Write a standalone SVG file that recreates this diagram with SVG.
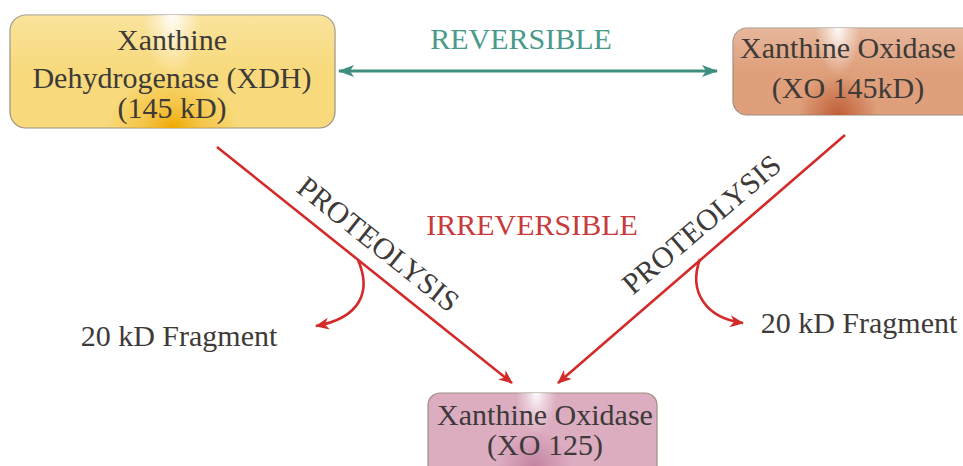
<svg xmlns="http://www.w3.org/2000/svg" width="963" height="466" viewBox="0 0 963 466">
<style>
.t{font-family:"Liberation Serif","Times New Roman",serif;font-size:30px;fill:#3d3a38;text-anchor:middle}
.red{stroke:#d32a2a;stroke-width:2.6;fill:none}
.teal{stroke:#3f8f80;stroke-width:3;fill:none}
.box{stroke:#9c8f80;stroke-width:1.2}
</style>
<defs>
<marker id="ar" viewBox="0 0 14 12" refX="13" refY="6" markerWidth="14" markerHeight="12" markerUnits="userSpaceOnUse" orient="auto">
<path d="M0,0 L14,6 L0,12 L4,6 Z" fill="#d32a2a"/>
</marker>
<marker id="at" viewBox="0 0 16 12" refX="15" refY="6" markerWidth="16" markerHeight="12" markerUnits="userSpaceOnUse" orient="auto-start-reverse">
<path d="M0,0 L16,6 L0,12 L4,6 Z" fill="#3f8f80"/>
</marker>
<radialGradient id="hi" cx="0.5" cy="0" r="0.5" gradientTransform="translate(0.41 0) scale(0.18 1.1)">
<stop offset="0" stop-color="#ffffff" stop-opacity="0.95"/>
<stop offset="0.5" stop-color="#ffffff" stop-opacity="0.4"/>
<stop offset="1" stop-color="#ffffff" stop-opacity="0"/>
</radialGradient>
<linearGradient id="top" x1="0" y1="0" x2="0" y2="1">
<stop offset="0" stop-color="#ffffff" stop-opacity="0.25"/>
<stop offset="0.5" stop-color="#ffffff" stop-opacity="0"/>
</linearGradient>
<radialGradient id="rY" cx="0.5" cy="1" r="0.5" gradientTransform="translate(0.3 0.05) scale(0.4 0.95)">
<stop offset="0" stop-color="#f0a800" stop-opacity="1"/>
<stop offset="0.5" stop-color="#f2b520" stop-opacity="0.5"/>
<stop offset="1" stop-color="#f0b000" stop-opacity="0"/>
</radialGradient>
<radialGradient id="rO" cx="0.5" cy="1" r="0.5" gradientTransform="translate(0.34 0.05) scale(0.32 0.95)">
<stop offset="0" stop-color="#b9532a" stop-opacity="0.85"/>
<stop offset="1" stop-color="#b9532a" stop-opacity="0"/>
</radialGradient>
<radialGradient id="rP" cx="0.5" cy="1" r="0.5" gradientTransform="translate(0.34 0.05) scale(0.32 0.95)">
<stop offset="0" stop-color="#b36a8c" stop-opacity="0.6"/>
<stop offset="1" stop-color="#b36a8c" stop-opacity="0"/>
</radialGradient>
</defs>
<rect width="963" height="466" fill="#ffffff"/>

<g id="connectors">
<line class="teal" x1="339" y1="71" x2="717" y2="71" marker-start="url(#at)" marker-end="url(#at)"/>
<line class="red" x1="217" y1="147" x2="512" y2="383" marker-end="url(#ar)"/>
<line class="red" x1="845" y1="135" x2="558" y2="383" marker-end="url(#ar)"/>
<path class="red" d="M358,260 C372,292 360,318 316,326" marker-end="url(#ar)"/>
<path class="red" d="M700,259 C688,292 706,318 743,323" marker-end="url(#ar)"/>
</g>

<g id="labels">
<text class="t" x="521" y="49" style="fill:#4a9a8a">REVERSIBLE</text>
<text class="t" x="532" y="235" style="fill:#c83a3c">IRREVERSIBLE</text>
<text class="t" transform="translate(372,252) rotate(38.5)" x="0" y="0">PROTEOLYSIS</text>
<text class="t" transform="translate(708,232) rotate(-40.3)" x="0" y="0">PROTEOLYSIS</text>
<text class="t" x="179" y="346">20 kD Fragment</text>
<text class="t" x="859" y="333">20 kD Fragment</text>
</g>

<g id="xdh">
<rect class="box" x="10" y="15" width="325" height="113" rx="16" fill="#f8da7c"/>
<rect x="10" y="15" width="325" height="113" rx="16" fill="url(#rY)"/>
<rect x="10" y="15" width="325" height="113" rx="16" fill="url(#top)"/>
<rect x="10" y="15" width="325" height="113" rx="16" fill="url(#hi)"/>
<text class="t" x="172" y="50">Xanthine</text>
<text class="t" x="172" y="88">Dehydrogenase (XDH)</text>
<text class="t" x="172" y="118">(145 kD)</text>
</g>

<g id="xo145">
<rect class="box" x="733" y="28" width="250" height="87" rx="14" fill="#df9f7b"/>
<rect x="713" y="28" width="250" height="87" fill="url(#rO)"/>
<rect x="733" y="28" width="250" height="87" rx="14" fill="url(#top)"/>
<rect x="713" y="28" width="250" height="87" fill="url(#hi)"/>
<text class="t" x="848" y="58">Xanthine Oxidase</text>
<text class="t" x="848" y="98">(XO 145kD)</text>
</g>

<g id="xo125">
<rect class="box" x="428" y="393" width="229" height="85" rx="12" fill="#dcacc1"/>
<rect x="428" y="393" width="229" height="73" fill="url(#rP)" transform="translate(-8 0)"/>
<rect x="428" y="393" width="229" height="73" fill="url(#hi)" transform="translate(-6 0)"/>
<text class="t" x="545" y="425">Xanthine Oxidase</text>
<text class="t" x="545" y="455">(XO 125)</text>
</g>
</svg>
